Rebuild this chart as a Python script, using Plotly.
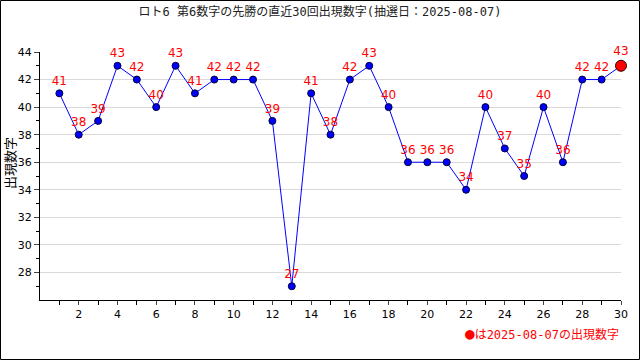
import plotly.graph_objects as go

draws = list(range(1, 31))
values = [41, 38, 39, 43, 42, 40, 43, 41, 42, 42, 42, 39, 27, 41, 38, 42, 43, 40,
          36, 36, 36, 34, 40, 37, 35, 40, 36, 42, 42, 43]
title_text = "ロト6 第6数字の先勝の直近30回出現数字(抽選日：2025-08-07)"
y_title = "出現数字"
legend_note = "は2025-08-07の出現数字"

fig = go.Figure()
fig.add_trace(go.Scatter(
    x=draws[:-1], y=values[:-1], mode="lines+markers+text",
    text=[str(v) for v in values[:-1]], textposition="top center",
    textfont=dict(color="red", size=12, family="DejaVu Sans"),
    line=dict(color="blue", width=1),
    marker=dict(color="blue", size=7, line=dict(color="#000033", width=1)),
    cliponaxis=False, showlegend=False))
fig.add_trace(go.Scatter(
    x=draws[-2:], y=values[-2:], mode="lines",
    line=dict(color="blue", width=1), showlegend=False, hoverinfo="skip"))
fig.add_trace(go.Scatter(
    x=draws[-1:], y=values[-1:], mode="markers+text",
    text=[str(values[-1])], textposition="top center",
    textfont=dict(color="red", size=12, family="DejaVu Sans"),
    marker=dict(color="red", size=11, line=dict(color="#330000", width=1)),
    cliponaxis=False, showlegend=False))

fig.update_layout(
    width=640, height=360, autosize=False,
    margin=dict(l=40, r=19, t=52, b=60, autoexpand=False),
    paper_bgcolor="white", plot_bgcolor="white",
    title=dict(text=title_text, x=0.5, xanchor="center", y=0.967, yanchor="middle",
               font=dict(size=12, color="#222", family="DejaVu Sans Mono, Noto Sans CJK JP")),
    font=dict(family="DejaVu Sans, Noto Sans CJK JP", size=11, color="black"),
    xaxis=dict(range=[0, 30], tickmode="array", tickvals=list(range(2, 31, 2)),
               ticks="outside", ticklen=4, showgrid=False, zeroline=False, automargin=False,
               showline=True, linecolor="black", linewidth=1,
               minor=dict(tickvals=list(range(1, 31, 2)), ticks="outside", ticklen=4, tickcolor="black"),
               tickfont=dict(size=11)),
    yaxis=dict(range=[26, 44], tickmode="array", tickvals=list(range(28, 45, 2)),
               ticks="outside", ticklen=5, showgrid=True, gridcolor="#d9d9d9",
               zeroline=False, showline=True, linecolor="black", linewidth=1, automargin=False,
               minor=dict(tickvals=list(range(27, 44, 2)), ticks="outside", ticklen=3, tickcolor="black"),
               tickfont=dict(size=11)),
)
fig.add_annotation(text=y_title, xref="paper", yref="paper", x=(9 - 40) / 581, y=(300 - 163) / 248,
                   xanchor="center", yanchor="middle", textangle=-90, showarrow=False,
                   font=dict(color="black", size=13, family="Noto Sans CJK JP"))
fig.add_annotation(text="<span style='font-size:16px'>●</span>" + legend_note,
                   xref="paper", yref="paper", x=1.0, y=-(333 - 300) / 248,
                   xanchor="right", yanchor="middle", showarrow=False,
                   font=dict(color="red", size=12, family="DejaVu Sans Mono, Noto Sans CJK JP"))
fig.add_shape(type="rect", xref="paper", yref="paper", x0=-39.5/581, x1=1+18.5/581,
              y0=-59.5/248, y1=1 + 51.5/248, line=dict(color="black", width=1))
fig.write_html("out.html", config={"displayModeBar": False},
               post_script="document.body.style.margin='0';")
